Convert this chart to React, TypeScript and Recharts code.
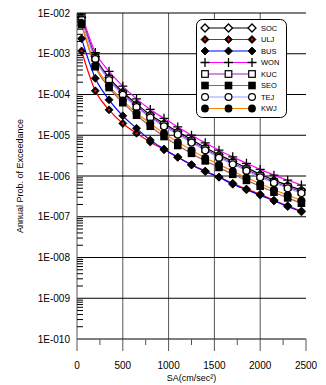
import { LineChart, Line, XAxis, YAxis, ReferenceLine } from "recharts";

// spectral acceleration (cm/sec^2) at each marker
const SA = [50, 200, 350, 500, 650, 800, 950, 1100, 1250, 1400, 1550, 1700, 1850, 2000, 2150, 2300, 2450];

const SOC = [7.9e-3, 8.5e-4, 2.6e-4, 1.15e-4, 5.8e-5, 3.2e-5, 1.95e-5, 1.23e-5, 7.8e-6, 5.0e-6, 3.3e-6, 2.3e-6, 1.6e-6, 1.1e-6, 7.9e-7, 5.9e-7, 4.5e-7];
const ULJ = [1.17e-3, 1.23e-4, 4.2e-5, 1.95e-5, 1.12e-5, 6.8e-6, 4.4e-6, 2.9e-6, 1.9e-6, 1.32e-6, 9.5e-7, 6.6e-7, 4.8e-7, 3.55e-7, 2.55e-7, 1.86e-7, 1.38e-7];
const BUS = [2.35e-3, 2.5e-4, 7.4e-5, 3.0e-5, 1.48e-5, 7.6e-6, 4.6e-6, 2.9e-6, 1.86e-6, 1.29e-6, 9.3e-7, 6.3e-7, 4.6e-7, 3.4e-7, 2.45e-7, 1.78e-7, 1.32e-7];
const WON = [9.5e-3, 1.07e-3, 3.7e-4, 1.6e-4, 7.8e-5, 4.3e-5, 2.6e-5, 1.6e-5, 1.0e-5, 6.5e-6, 4.3e-6, 2.95e-6, 2.05e-6, 1.45e-6, 1.05e-6, 7.9e-7, 6.0e-7];
const KUC = [7.4e-3, 7.9e-4, 2.4e-4, 1.05e-4, 5.2e-5, 2.9e-5, 1.8e-5, 1.12e-5, 7.1e-6, 4.6e-6, 3.0e-6, 2.1e-6, 1.45e-6, 1.0e-6, 7.2e-7, 5.4e-7, 4.1e-7];
const SEO = [5.2e-3, 4.8e-4, 1.48e-4, 6.3e-5, 3.1e-5, 1.66e-5, 9.3e-6, 5.6e-6, 3.6e-6, 2.35e-6, 1.62e-6, 1.1e-6, 7.8e-7, 5.6e-7, 4.0e-7, 2.9e-7, 2.15e-7];
const TEJ = [6.9e-3, 7.4e-4, 2.25e-4, 9.8e-5, 4.9e-5, 2.7e-5, 1.66e-5, 1.05e-5, 6.6e-6, 4.3e-6, 2.8e-6, 1.95e-6, 1.35e-6, 9.3e-7, 6.8e-7, 5.0e-7, 3.8e-7];
const KWJ = [5.6e-3, 5.2e-4, 1.66e-4, 7.2e-5, 3.5e-5, 1.95e-5, 1.12e-5, 6.8e-6, 4.3e-6, 2.8e-6, 1.9e-6, 1.32e-6, 9.1e-7, 6.5e-7, 4.6e-7, 3.4e-7, 2.5e-7];

const X_TICKS = [0, 250, 500, 750, 1000, 1250, 1500, 1750, 2000, 2250, 2500];
const X_GRID = [500, 1000, 1500, 2000];
const DECADES = [-10, -9, -8, -7, -6, -5, -4, -3, -2];

const FONT = "'Liberation Sans', Arial, sans-serif";

type Kind = "diamondOpen" | "diamondRed" | "diamond" | "plus" | "squareOpen" | "square" | "circleOpen" | "circle";

const SERIES: { key: string; color: string; kind: Kind; values: number[] }[] = [
  { key: "SOC", color: "#000000", kind: "diamondOpen", values: SOC },
  { key: "ULJ", color: "#ff0000", kind: "diamondRed", values: ULJ },
  { key: "BUS", color: "#0000ff", kind: "diamond", values: BUS },
  { key: "WON", color: "#ff00ff", kind: "plus", values: WON },
  { key: "KUC", color: "#a020c0", kind: "squareOpen", values: KUC },
  { key: "SEO", color: "#996060", kind: "square", values: SEO },
  { key: "TEJ", color: "#9999ff", kind: "circleOpen", values: TEJ },
  { key: "KWJ", color: "#ff7f00", kind: "circle", values: KWJ },
];

const data = SA.map((sa, i) => {
  const row: Record<string, number> = { sa };
  SERIES.forEach((s) => (row[s.key] = s.values[i]));
  return row;
});

// minor ticks 2..9 per decade on the left, mirrored on the right
const LEFT_TICKS: number[] = [];
const RIGHT_TICKS: number[] = [];
DECADES.forEach((d) => {
  LEFT_TICKS.push(Math.pow(10, d));
  RIGHT_TICKS.push(Math.pow(10, d));
  if (d < -2) {
    for (let m = 2; m <= 9; m++) {
      LEFT_TICKS.push(m * Math.pow(10, d));
      RIGHT_TICKS.push(Math.pow(10, d + 1) / m);
    }
  }
});

const isDecade = (v: number) => Math.abs(Math.log10(v) - Math.round(Math.log10(v))) < 1e-6;
const fmtExp = (v: number) => {
  const e = Math.round(Math.log10(v));
  return `1E${e < 0 ? "-" : "+"}${String(Math.abs(e)).padStart(3, "0")}`;
};

function Marker({ kind, cx, cy }: { kind: Kind; cx: number; cy: number }) {
  const d = 4;
  const dia = `${cx},${cy - d} ${cx + d},${cy} ${cx},${cy + d} ${cx - d},${cy}`;
  switch (kind) {
    case "diamondOpen":
      return <polygon points={dia} fill="#fff" stroke="#000" strokeWidth={1.3} />;
    case "diamondRed":
      return (
        <g>
          <polygon points={dia} fill="#000" stroke="#000" strokeWidth={0.8} />
          <circle cx={cx} cy={cy} r={1.2} fill="#ff0000" />
        </g>
      );
    case "diamond":
      return <polygon points={dia} fill="#000" stroke="#000" strokeWidth={0.8} />;
    case "plus":
      return (
        <path
          d={`M${cx - 4.5},${cy}H${cx + 4.5}M${cx},${cy - 4.5}V${cy + 4.5}`}
          stroke="#000"
          strokeWidth={1.3}
          fill="none"
        />
      );
    case "squareOpen":
      return <rect x={cx - 3.3} y={cy - 3.3} width={6.6} height={6.6} fill="#fff" stroke="#000" strokeWidth={1.2} />;
    case "square":
      return <rect x={cx - 3.8} y={cy - 3.8} width={7.6} height={7.6} fill="#000" />;
    case "circleOpen":
      return <circle cx={cx} cy={cy} r={3.4} fill="#fff" stroke="#000" strokeWidth={1.2} />;
    default:
      return <circle cx={cx} cy={cy} r={3.9} fill="#000" />;
  }
}

const XTick = (props: any) => {
  const { x, y, payload } = props;
  const major = payload.value % 500 === 0;
  return (
    <g>
      <line x1={x} x2={x} y1={y} y2={y + (major ? 12 : 6)} stroke="#555" strokeWidth={1} />
      {major && (
        <text x={x} y={y + 30} textAnchor="middle" fontSize={10} fontFamily={FONT} fill="#000">
          {payload.value}
        </text>
      )}
    </g>
  );
};

const LeftTick = (props: any) => {
  const { x, y, payload } = props;
  const major = isDecade(payload.value);
  if (major)
    return (
      <text x={x - 7} y={y + 3.6} textAnchor="end" fontSize={10} fontFamily={FONT} fill="#000">
        {fmtExp(payload.value)}
      </text>
    );
  return <line x1={x} x2={x + 6} y1={y} y2={y} stroke="#000" strokeWidth={1} />;
};

const RightTick = (props: any) => {
  const { x, y, payload } = props;
  if (isDecade(payload.value)) return <g />;
  return <line x1={x} x2={x - 6} y1={y} y2={y} stroke="#000" strokeWidth={1} />;
};

function LegendBox() {
  const rowH = 11.5;
  return (
    <svg
      width={92}
      height={100}
      style={{ position: "absolute", left: 196, top: 19 }}
    >
      <rect x={0.5} y={0.5} width={90} height={98} rx={6} fill="#fff" stroke="#000" strokeWidth={1} />
      {SERIES.map((s, i) => {
        const cy = 9 + i * rowH;
        return (
          <g key={s.key}>
            <line x1={9} x2={56} y1={cy} y2={cy} stroke={s.color} strokeWidth={1.2} />
            {[9, 32.5, 56].map((cx) => (
              <Marker key={cx} kind={s.kind} cx={cx} cy={cy} />
            ))}
            <text x={65} y={cy + 2.6} fontSize={7.5} fontFamily={FONT} fill="#000">
              {s.key}
            </text>
          </g>
        );
      })}
    </svg>
  );
}

export default function App() {
  return (
    <div style={{ position: "absolute", left: 0, top: 0, width: 326, height: 385, background: "#fff" }}>
      <LineChart width={326} height={385} data={data} margin={{ top: 13, right: 20, bottom: 0, left: 0 }}>
        <XAxis
          dataKey="sa"
          type="number"
          domain={[0, 2500]}
          ticks={X_TICKS}
          interval={0}
          tick={<XTick />}
          tickLine={false}
          tickSize={0}
          tickMargin={0}
          height={46}
          axisLine={{ stroke: "#000" }}
          allowDataOverflow
          label={(p: any) => {
            const vb = p.viewBox;
            return (
              <text x={vb.x + vb.width / 2} y={vb.y + 42} textAnchor="middle" fontSize={9} fontFamily={FONT} fill="#000">
                SA(cm/sec²)
              </text>
            );
          }}
        />
        <YAxis
          yAxisId="l"
          scale="log"
          domain={[1e-10, 1e-2]}
          ticks={LEFT_TICKS}
          interval={0}
          tick={<LeftTick />}
          tickLine={false}
          tickSize={0}
          tickMargin={0}
          width={77}
          axisLine={{ stroke: "#555" }}
          allowDataOverflow
          label={(p: any) => {
            const vb = p.viewBox;
            const cx = vb.x + 23;
            const cy = vb.y + vb.height / 2;
            return (
              <text x={cx} y={cy} transform={`rotate(-90 ${cx} ${cy})`} textAnchor="middle" fontSize={9} fontFamily={FONT} fill="#000">
                Annual Prob. of Exceedance
              </text>
            );
          }}
        />
        <YAxis
          yAxisId="r"
          orientation="right"
          scale="log"
          domain={[1e-10, 1e-2]}
          ticks={RIGHT_TICKS}
          interval={0}
          tick={<RightTick />}
          tickLine={false}
          tickSize={0}
          tickMargin={0}
          width={0}
          axisLine={{ stroke: "#555" }}
          allowDataOverflow
        />
        {X_GRID.map((v) => (
          <ReferenceLine key={`x${v}`} yAxisId="l" x={v} stroke="#555" strokeWidth={1} />
        ))}
        {DECADES.filter((d) => d > -10).map((d) => (
          <ReferenceLine key={`y${d}`} yAxisId="l" y={Math.pow(10, d)} stroke="#000" strokeWidth={1} />
        ))}
        {SERIES.map((s) => (
          <Line
            key={s.key}
            yAxisId="l"
            dataKey={s.key}
            type="monotone"
            stroke={s.color}
            strokeWidth={1.2}
            isAnimationActive={false}
            dot={(p: any) => <Marker key={`${s.key}-${p.index}`} kind={s.kind} cx={p.cx} cy={p.cy} />}
          />
        ))}
      </LineChart>
      <LegendBox />
    </div>
  );
}
